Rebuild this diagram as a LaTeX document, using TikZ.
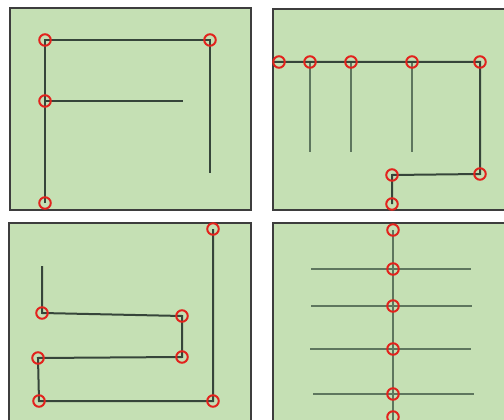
\documentclass[tikz,border=0pt]{standalone}
\usepackage{xcolor}
\usetikzlibrary{positioning}
\definecolor{colorPanel}{HTML}{C5E0B4}
\definecolor{colorEdge}{HTML}{3D3D3D}
\definecolor{colorWire}{HTML}{36453A}
\definecolor{colorStub}{HTML}{5E765E}
\definecolor{colorRing}{HTML}{E2231D}

\begin{document}
\begin{tikzpicture}[x=1pt, y=-1pt,
  panel/.style={fill=colorPanel, draw=colorEdge, line width=1.4pt},
  wire/.style={draw=colorWire, line width=2pt},
  stub/.style={draw=colorStub, line width=1.3pt},
  joint/.style={circle, draw=colorRing, line width=2pt, minimum size=11.5pt, inner sep=0pt}]

  \useasboundingbox (0,0) rectangle (504,420);

  % Les quatre cadres
  \path[panel] (10,8) rectangle (251,210);
  \path[panel] (273,9) rectangle (510,210);
  \path[panel] (9,223) rectangle (251,426);
  \path[panel] (273,223) rectangle (510,426);

  % Cadre 1
  \coordinate (a1) at (45,40);
  \coordinate (a2) at (210,40);
  \coordinate (a3) at (45,101);
  \coordinate (a4) at (45,203);
  \coordinate (a5) at (183,101);
  \coordinate (a6) at (210,173);
  \draw[wire] (a4) -- (a1) -- (a2) -- (a6);
  \draw[wire] (a3) -- (a5);
  \foreach \p in {a1,a2,a3,a4}
    \node[joint] (j-\p) at (\p) {};

  % Cadre 2
  \coordinate (b0) at (273,62);
  \coordinate (b1) at (279,62);
  \coordinate (b2) at (310,62);
  \coordinate (b3) at (351,62);
  \coordinate (b4) at (412,62);
  \coordinate (b5) at (480,62);
  \coordinate (b6) at (480,174);
  \coordinate (b7) at (392,175);
  \coordinate (b8) at (392,204);
  \foreach \p in {b2,b3,b4}
    \draw[stub] (\p) -- ++(0,90);
  \draw[wire] (b0) -- (b5) -- (b6) -- (b7) -- (b8);
  \foreach \p in {b1,b2,b3,b4,b5,b6,b7,b8}
    \node[joint] (j-\p) at (\p) {};

  % Cadre 3
  \coordinate (c1) at (213,229);
  \coordinate (c2) at (213,401);
  \coordinate (c3) at (39,401);
  \coordinate (c4) at (38,358);
  \coordinate (c5) at (182,357);
  \coordinate (c6) at (182,316);
  \coordinate (c7) at (42,313);
  \coordinate (c8) at (42,266);
  \draw[wire] (c1) -- (c2) -- (c3) -- (c4) -- (c5) -- (c6) -- (c7) -- (c8);
  \foreach \p in {c1,c2,c3,c4,c5,c6,c7}
    \node[joint] (j-\p) at (\p) {};

  % Cadre 4
  \coordinate (d1) at (393,230);
  \coordinate (d2) at (393,269);
  \coordinate (d3) at (393,306);
  \coordinate (d4) at (393,349);
  \coordinate (d5) at (393,394);
  \coordinate (d6) at (393,417);
  \coordinate (d7) at (393,426);
  \foreach \p/\l/\r in {d2/82/78, d3/82/79, d4/83/78, d5/80/81}
    \draw[stub] (\p) -- ++(-\l,0) (\p) -- ++(\r,0);
  \draw[stub] (d1) -- (d7);
  \foreach \p in {d1,d2,d3,d4,d5,d6}
    \node[joint] (j-\p) at (\p) {};

\end{tikzpicture}
\end{document}
